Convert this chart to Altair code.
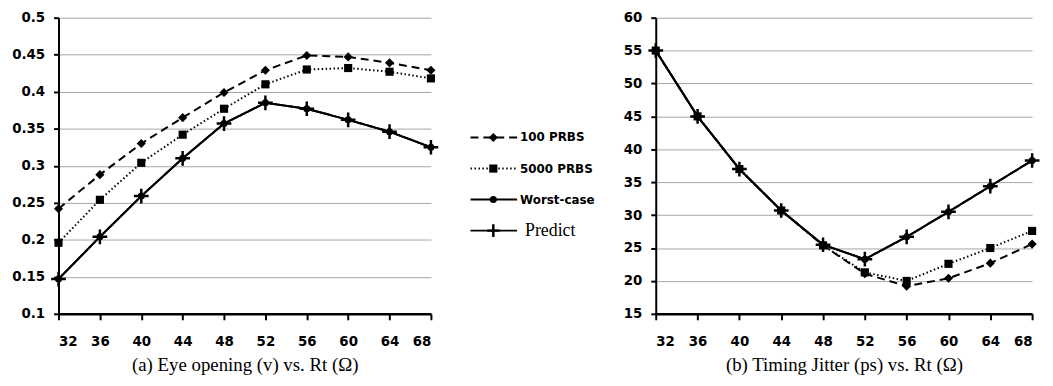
import altair as alt
import pandas as pd

rt = [32, 36, 40, 44, 48, 52, 56, 60, 64, 68]
series = ["100 PRBS", "5000 PRBS", "Worst-case", "Predict"]

# (a) Eye opening (v)
eye_100 = [0.242, 0.288, 0.330, 0.365, 0.399, 0.429, 0.449, 0.447, 0.439, 0.429]
eye_5000 = [0.196, 0.254, 0.304, 0.342, 0.377, 0.410, 0.430, 0.432, 0.427, 0.418]
eye_worst = [0.147, 0.204, 0.259, 0.310, 0.357, 0.385, 0.377, 0.362, 0.346, 0.325]
eye_pred = [0.147, 0.204, 0.259, 0.310, 0.357, 0.385, 0.377, 0.362, 0.346, 0.325]
eye_ticks = [0.1, 0.15, 0.2, 0.25, 0.3, 0.35, 0.4, 0.45, 0.5]

# (b) Timing jitter (ps)
jit_100 = [55.0, 45.0, 37.0, 30.7, 25.4, 21.1, 19.2, 20.4, 22.7, 25.6]
jit_5000 = [55.0, 45.0, 37.0, 30.7, 25.4, 21.3, 20.0, 22.6, 25.0, 27.6]
jit_worst = [55.0, 45.0, 37.0, 30.7, 25.5, 23.3, 26.7, 30.5, 34.4, 38.3]
jit_pred = [55.0, 45.0, 37.0, 30.7, 25.5, 23.3, 26.7, 30.5, 34.4, 38.3]
jit_ticks = [15, 20, 25, 30, 35, 40, 45, 50, 55, 60]

cap_a = "(a) Eye opening (v) vs. Rt (Ω)"
cap_b = "(b) Timing Jitter (ps) vs. Rt (Ω)"

dash_scale = alt.Scale(domain=series, range=[[8, 5], [1.5, 2.5], [1, 0], [1, 0]])
width_scale = alt.Scale(domain=series, range=[2, 2, 2.5, 2.5])
shape_scale = alt.Scale(domain=series[:3], range=["diamond", "square", "circle"])
size_scale = alt.Scale(domain=series[:3], range=[85, 50, 35])
CROSS = "M-1,0L1,0M0,-1L0,1"

LABEL_FONT = "DejaVu Sans"


def panel(vals, ydom, yticks, yfmt, title, w, ext):
    rows = []
    for s, v in zip(series, vals):
        for xv, yv in zip(rt, v):
            rows.append({"Rt": xv, "val": yv, "series": s})
    df = pd.DataFrame(rows)
    base = alt.Chart(df)
    x = alt.X("Rt:Q", scale=alt.Scale(domain=[32, 68], nice=False, zero=False),
              axis=alt.Axis(values=rt, title=title, grid=False, tickSize=6,
                            domainWidth=2.5, labelPadding=15, titlePadding=8,
                            titleFont="Liberation Serif", titleFontSize=19,
                            titleFontWeight="normal", titleColor="black"))
    y = alt.Y("val:Q", scale=alt.Scale(domain=ydom, nice=False, zero=False),
              axis=alt.Axis(values=yticks, format=yfmt, title=None, grid=True,
                            tickSize=5, labelPadding=9, minExtent=ext))
    lines = base.mark_line(color="black").encode(
        x=x, y=y, detail="series:N",
        strokeDash=alt.StrokeDash("series:N", scale=dash_scale, legend=None),
        strokeWidth=alt.StrokeWidth("series:N", scale=width_scale, legend=None),
    )
    pts = base.transform_filter(
        alt.FieldOneOfPredicate(field="series", oneOf=series[:3])
    ).mark_point(filled=True, color="black", opacity=1).encode(
        x=x, y=y,
        shape=alt.Shape("series:N", scale=shape_scale, legend=None),
        size=alt.Size("series:N", scale=size_scale, legend=None),
    )
    cross = base.transform_filter(
        alt.FieldEqualPredicate(field="series", equal="Predict")
    ).mark_point(shape=CROSS, filled=False, color="black", strokeWidth=2.5,
                 size=220, opacity=1).encode(x=x, y=y)
    return alt.layer(lines, pts, cross).properties(width=w, height=299)


left = panel([eye_100, eye_5000, eye_worst, eye_pred], [0.1, 0.5], eye_ticks,
             ".2~f", cap_a, 376, 47)
right = panel([jit_100, jit_5000, jit_worst, jit_pred], [15, 60], jit_ticks,
              "d", cap_b, 380, 35)

legdf = pd.DataFrame({"series": series, "order": list(range(len(series)))})
lbase = alt.Chart(legdf)
ly = alt.Y("order:Q", scale=alt.Scale(domain=[0, 3], range=[121, 215], nice=False,
                                      zero=False), axis=None)
lrule = lbase.mark_rule(color="black").encode(
    y=ly, x=alt.value(27), x2=alt.value(74),
    strokeDash=alt.StrokeDash("series:N", scale=dash_scale, legend=None),
    strokeWidth=alt.StrokeWidth("series:N", scale=width_scale, legend=None),
)
lpts = lbase.transform_filter(
    alt.FieldOneOfPredicate(field="series", oneOf=series[:3])
).mark_point(filled=True, color="black", opacity=1).encode(
    y=ly, x=alt.value(50),
    shape=alt.Shape("series:N", scale=shape_scale, legend=None),
    size=alt.Size("series:N", scale=size_scale, legend=None),
)
lcross = lbase.transform_filter(
    alt.FieldEqualPredicate(field="series", equal="Predict")
).mark_point(shape=CROSS, filled=False, color="black", strokeWidth=2.5,
             size=160, opacity=1).encode(y=ly, x=alt.value(50))
ltext = lbase.transform_filter(
    alt.FieldOneOfPredicate(field="series", oneOf=series[:3])
).mark_text(align="left", baseline="middle", font=LABEL_FONT, fontWeight="bold",
            fontSize=12, color="black").encode(y=ly, x=alt.value(77), text="series:N")
ltext2 = lbase.transform_filter(
    alt.FieldEqualPredicate(field="series", equal="Predict")
).mark_text(align="left", baseline="middle", font="Liberation Serif",
            fontSize=18, color="black").encode(y=ly, x=alt.value(82), text="series:N")
legend = alt.layer(lrule, lpts, lcross, ltext, ltext2).properties(width=179, height=299)

chart = alt.hconcat(left, legend, right, spacing=0).properties(
    padding={"left": 3, "top": 1, "right": 0, "bottom": 0}
).configure_view(stroke=None).configure_axis(
    domainColor="black", domainWidth=2, tickColor="black", tickWidth=2,
    gridColor="#a6a6a6", gridWidth=1,
    labelFont=LABEL_FONT, labelFontWeight="bold", labelFontSize=13.5, labelColor="black",
)

chart.save("out.html", embed_options={"renderer": "svg", "actions": False})
